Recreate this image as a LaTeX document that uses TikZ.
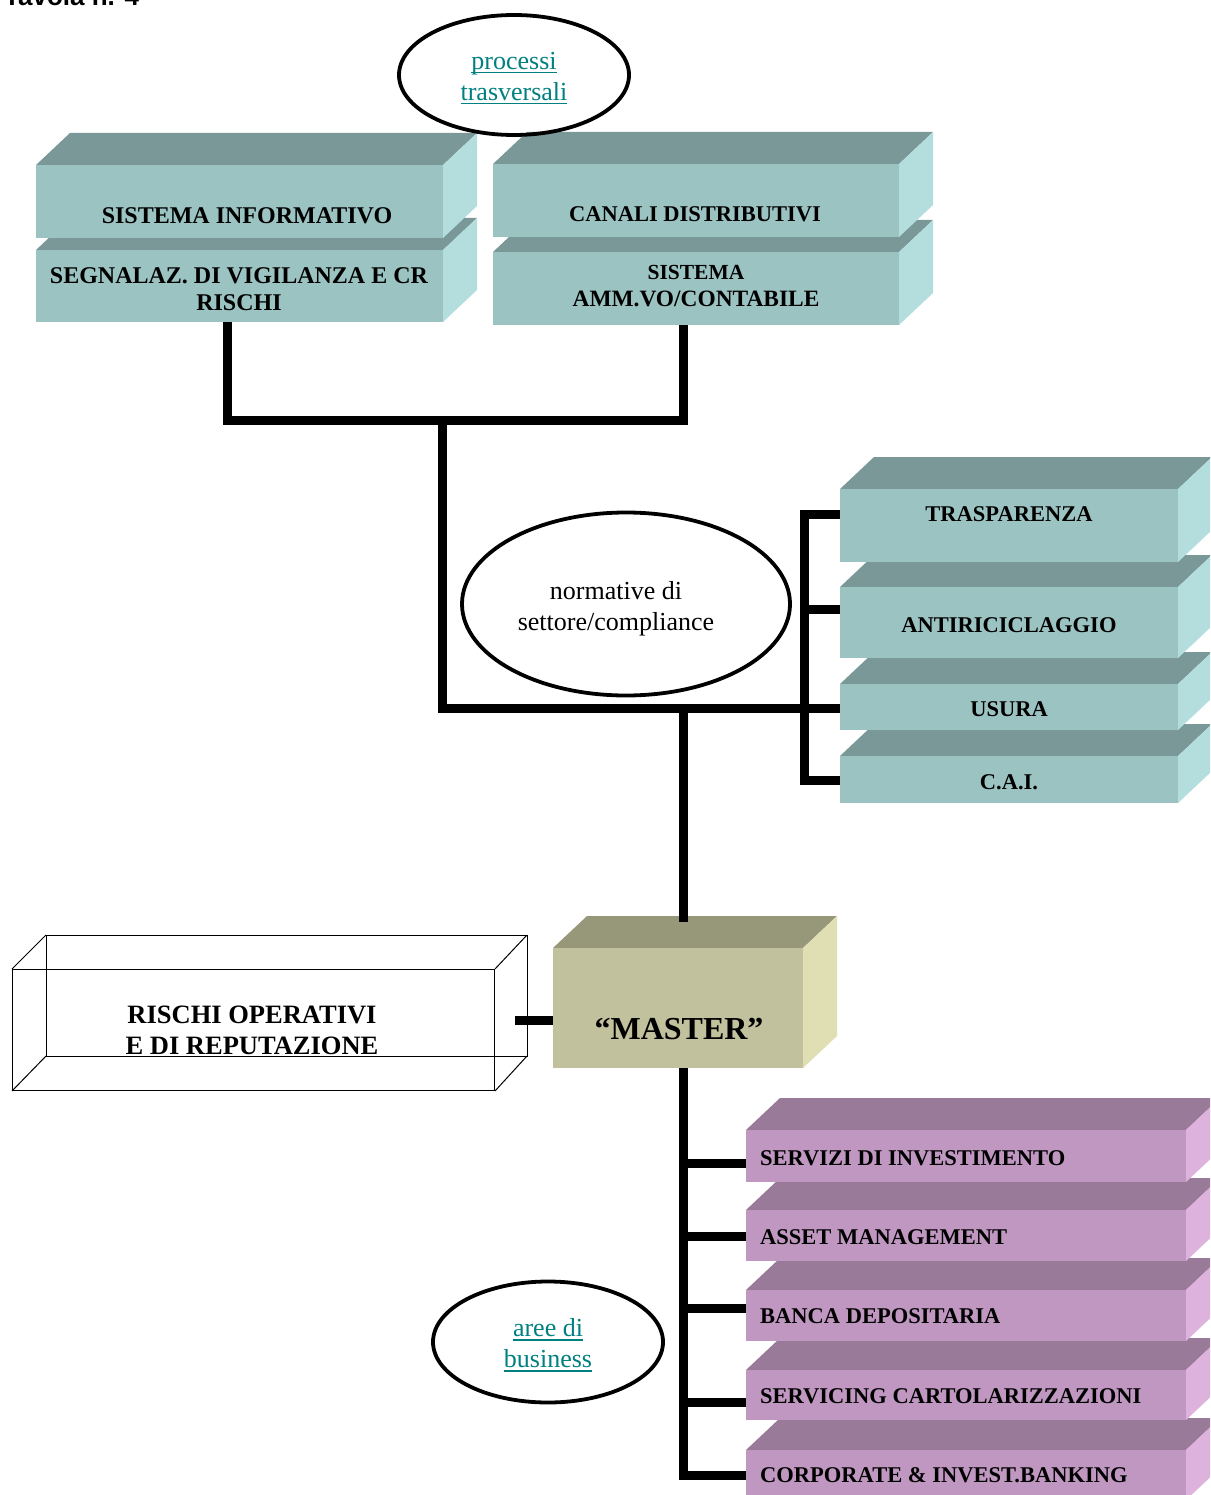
\documentclass[tikz,border=0pt]{standalone}
\usepackage{fontspec}
\setmainfont{Liberation Serif}
\newfontfamily\arialfont{Liberation Sans}
\usetikzlibrary{shapes.geometric}
\definecolor{tealF}{RGB}{155,195,194}
\definecolor{tealT}{RGB}{122,152,151}
\definecolor{tealS}{RGB}{179,222,221}
\definecolor{purF}{RGB}{192,151,193}
\definecolor{purT}{RGB}{153,122,153}
\definecolor{purS}{RGB}{221,179,222}
\definecolor{olvF}{RGB}{193,193,157}
\definecolor{olvT}{RGB}{151,151,121}
\definecolor{olvS}{RGB}{223,223,179}
\definecolor{linkteal}{RGB}{0,128,128}
\newcommand\myul[1]{\setbox0\hbox{#1}\rlap{\rule[-4pt]{\wd0}{1.6pt}}\box0}
\newcommand\tdcube[8]{%
  \fill[#7] (#2,#3) -- ++(34,-32) -- ({#4+34},{#3-32}) -- (#4,#3) -- cycle;
  \fill[#8] (#4,#3) -- ({#4+34},{#3-32}) -- ({#4+34},{#5-32}) -- (#4,#5) -- cycle;
  \node[fill=#6, inner sep=0pt, outer sep=0pt, minimum width={(#4-#2)*1pt},
        minimum height={(#5-#3)*1pt}, anchor=north west] (#1) at (#2,#3) {};
}
\tikzset{
  conn/.style={line width=9pt, line join=miter, line cap=butt},
  lbl/.style={inner sep=0pt, font=\bfseries\fontsize{22.5}{27}\selectfont, align=center},
  lblL/.style={inner sep=0pt, font=\bfseries\fontsize{22.5}{27}\selectfont, anchor=west},
  oval/.style={ellipse, draw, line width=3.8pt, inner sep=0pt},
  ovtxt/.style={inner sep=0pt, font=\fontsize{26}{31}\selectfont, align=center},
  wire/.style={draw, line width=1pt}
}
\begin{document}
\begin{tikzpicture}[x=1pt,y=-1pt]
\useasboundingbox (0,0) rectangle (1210,1495);
\clip (0,0) rectangle (1210,1495);
\fill[white] (0,0) rectangle (1210,1495);

% title (cut at top, as in the reference)
\node[inner sep=0pt, anchor=base west, font=\arialfont\bfseries\fontsize{26}{30}\selectfont] (title) at (4,6) {Tavola n. 4};

% top stacks
\tdcube{segn}{36}{250}{443}{322}{tealF}{tealT}{tealS}
\tdcube{sinfo}{36}{165}{443}{238}{tealF}{tealT}{tealS}
\tdcube{amm}{493}{252}{899}{325}{tealF}{tealT}{tealS}
\tdcube{canali}{493}{164}{899}{237}{tealF}{tealT}{tealS}
\node[lbl, font=\bfseries\fontsize{24}{27}\selectfont] (tsinfo) at (247,216) {SISTEMA INFORMATIVO};
\node[lbl, font=\bfseries\fontsize{24}{27}\selectfont] (tsegn) at (239,289) {SEGNALAZ. DI VIGILANZA E CR\\RISCHI};
\node[lbl] (tcanali) at (695,214) {CANALI DISTRIBUTIVI};
\node[lbl] (tamm) at (696,286) {{\fontsize{21.5}{27}\selectfont SISTEMA}\\{\fontsize{23.4}{27}\selectfont AMM.VO/CONTABILE}};

% processi ellipse
\node[oval, minimum width=230, minimum height=120] (proc) at (514,75) {};
\node[ovtxt, text=linkteal] (tproc) at (514,78) {\myul{processi}\\\myul{trasversali}};

% right stack
\tdcube{cai}{840}{756}{1178}{803}{tealF}{tealT}{tealS}
\tdcube{usura}{840}{684}{1178}{730}{tealF}{tealT}{tealS}
\tdcube{antir}{840}{587}{1178}{658}{tealF}{tealT}{tealS}
\tdcube{trasp}{840}{489}{1178}{562}{tealF}{tealT}{tealS}
\node[lbl] (ttrasp) at (1009,514) {TRASPARENZA};
\node[lbl] (tantir) at (1009,625) {ANTIRICICLAGGIO};
\node[lbl] (tusura) at (1009,709) {USURA};
\node[lbl] (tcai) at (1009,782) {C.A.I.};

% normative ellipse
\node[oval, minimum width=328, minimum height=183] (norm) at (626,604) {};
\node[ovtxt] (tnorm) at (616,609) {normative di\\settore/compliance};

% master
\tdcube{master}{553}{948}{803}{1068}{olvF}{olvT}{olvS}
\node[inner sep=0pt, font=\bfseries\fontsize{32}{36}\selectfont] (tmaster) at (679,1029) {“MASTER”};

% rischi wireframe box
\draw[wire] (46,935) rectangle (527,1056);
\node[draw, line width=1pt, inner sep=0pt, minimum width=482, minimum height=121, anchor=north west] (rischi) at (12,969) {};
\draw[wire] (rischi.north west) -- (46,935);
\draw[wire] (rischi.north east) -- (527,935);
\draw[wire] (rischi.south west) -- (46,1056);
\draw[wire] (rischi.south east) -- (527,1056);
\node[lbl, font=\bfseries\fontsize{26.5}{31}\selectfont] (trischi) at (252,1030) {RISCHI OPERATIVI\\E DI REPUTAZIONE};

% purple stack
\tdcube{corp}{746}{1450}{1186}{1500}{purF}{purT}{purS}
\tdcube{servc}{746}{1370}{1186}{1420}{purF}{purT}{purS}
\tdcube{banca}{746}{1290}{1186}{1341}{purF}{purT}{purS}
\tdcube{asset}{746}{1210}{1186}{1261}{purF}{purT}{purS}
\tdcube{servi}{746}{1130}{1186}{1182}{purF}{purT}{purS}
\node[lblL] (tservi) at (760,1158) {SERVIZI DI INVESTIMENTO};
\node[lblL] (tasset) at (760,1237) {ASSET MANAGEMENT};
\node[lblL] (tbanca) at (760,1316) {BANCA DEPOSITARIA};
\node[lblL] (tservc) at (760,1396) {SERVICING CARTOLARIZZAZIONI};
\node[lblL] (tcorp) at (760,1475) {CORPORATE \& INVEST.BANKING};

% aree ellipse
\node[oval, minimum width=230, minimum height=121] (aree) at (548,1342) {};
\node[ovtxt, text=linkteal] (taree) at (548,1345) {\myul{aree di}\\\myul{business}};

% connectors
\coordinate (jA) at (227,420);
\coordinate (jB) at (683,420);
\coordinate (jC) at (442,420);
\coordinate (jD) at (442,708);
\coordinate (jF) at (683,708);
\coordinate (br1) at (804,514);
\coordinate (br2) at (804,609);
\coordinate (br4) at (804,780);
\coordinate (rj) at (515,1020);
\coordinate (mtop) at (683,922);
\coordinate (b1) at (683,1163);
\coordinate (b2) at (683,1236);
\coordinate (b3) at (683,1308);
\coordinate (b4) at (683,1402);
\coordinate (b5) at (683,1475);

\draw[conn] (segn.south -| jA) -- (jA) -- (jB) -- (amm.south -| jB);
\draw[conn] (jC) -- (jD) -- (usura.west |- jD);
\draw[conn] (jF) -- (mtop);
\draw[conn] (trasp.west |- br1) -- (br1) -- (br4) -- (cai.west |- br4);
\draw[conn] (br2) -- (antir.west |- br2);
\draw[conn] (rj) -- (master.west |- rj);
\draw[conn] (master.south -| b1) -- (b5) -- (corp.west |- b5);
\draw[conn] (b1) -- (servi.west |- b1);
\draw[conn] (b2) -- (asset.west |- b2);
\draw[conn] (b3) -- (banca.west |- b3);
\draw[conn] (b4) -- (servc.west |- b4);
\end{tikzpicture}
\end{document}
